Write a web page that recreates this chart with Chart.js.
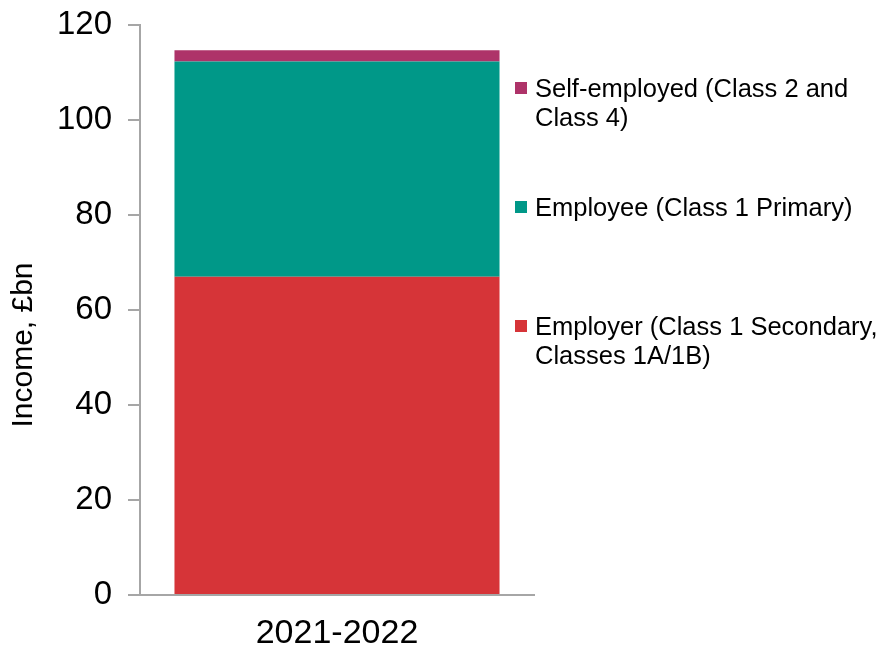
<!DOCTYPE html>
<html>
<head>
<meta charset="utf-8">
<script src="https://cdn.jsdelivr.net/npm/chart.js@4"></script>
<style>
  html, body { margin: 0; padding: 0; background: #fff; }
  #wrap { position: relative; width: 880px; height: 648px; }
  #legend { position: absolute; left: 515px; top: 0; font-family: "Liberation Sans", Arial, sans-serif; font-size: 25.5px; line-height: 29px; color: #000; }
  .item { position: absolute; left: 0; white-space: pre; padding-left: 20px; }
  .item i { position: absolute; left: 0; top: 8px; width: 12px; height: 12px; }
</style>
</head>
<body>
<div id="wrap">
  <canvas id="niChart" width="880" height="648"></canvas>
  <div id="legend"></div>
</div>
<script>
// NI income by class, 2021-2022 (£bn)
const categories = ['2021-2022'];
const seriesNames = ['Employer (Class 1 Secondary,\nClasses 1A/1B)', 'Employee (Class 1 Primary)', 'Self-employed (Class 2 and\nClass 4)'];
const employer = [67.0];
const employee = [45.3];
const selfEmployed = [2.4];
const yTicks = [0, 20, 40, 60, 80, 100, 120];

const colours = ['#d63438', '#009888', '#ae3369'];
const axisGrey = '#a6a6a6';
const fontFamily = '"Liberation Sans", Arial, sans-serif';

// y-axis title sits lower than the chart area centre, so draw it by hand
const yTitle = {
    id: 'yTitle',
    afterDraw(chart) {
        const ctx = chart.ctx;
        ctx.save();
        ctx.translate(24, 345);
        ctx.rotate(-Math.PI / 2);
        ctx.font = '30px ' + fontFamily;
        ctx.fillStyle = '#000';
        ctx.textAlign = 'center';
        ctx.textBaseline = 'middle';
        ctx.fillText('Income, £bn', 0, 0);
        ctx.restore();
    }
};

const series = [employer, employee, selfEmployed];

const chart = new Chart(document.getElementById('niChart').getContext('2d'), {
    type: 'bar',
    data: {
        labels: categories,
        datasets: series.map((d, i) => ({
            label: seriesNames[i],
            data: d,
            backgroundColor: colours[i],
            barPercentage: 0.825,
            categoryPercentage: 1
        }))
    },
    options: {
        responsive: false,
        animation: false,
        layout: { autoPadding: false, padding: { left: 0, right: 346, top: 25, bottom: 0 } },
        plugins: { legend: { display: false }, tooltip: { enabled: false } },
        scales: {
            x: {
                stacked: true,
                grid: { drawOnChartArea: false, drawTicks: false },
                border: { color: axisGrey, width: 2 },
                ticks: { color: '#000', padding: 18, font: { family: fontFamily, size: 34 } },
                afterFit(scale) { scale.height = 53; }
            },
            y: {
                stacked: true,
                min: 0,
                max: 120,
                afterBuildTicks(scale) { scale.ticks = yTicks.map(v => ({ value: v })); },
                grid: { drawOnChartArea: false, color: axisGrey, lineWidth: 2, tickLength: 12 },
                border: { color: axisGrey, width: 2 },
                ticks: { color: '#000', padding: 16, font: { family: fontFamily, size: 33 } },
                afterFit(scale) {
                    scale.width = 140;
                    scale.paddingTop = 0;
                    scale.paddingBottom = 0;
                }
            }
        }
    },
    plugins: [yTitle]
});

// legend, top entry first
const legendTops = [312, 193, 74];
const legend = document.getElementById('legend');
seriesNames.forEach((name, i) => {
    const item = document.createElement('div');
    item.className = 'item';
    item.style.top = legendTops[i] + 'px';
    item.innerHTML = '<i style="background:' + colours[i] + '"></i>';
    item.appendChild(document.createTextNode(name));
    legend.appendChild(item);
});
</script>
</body>
</html>
